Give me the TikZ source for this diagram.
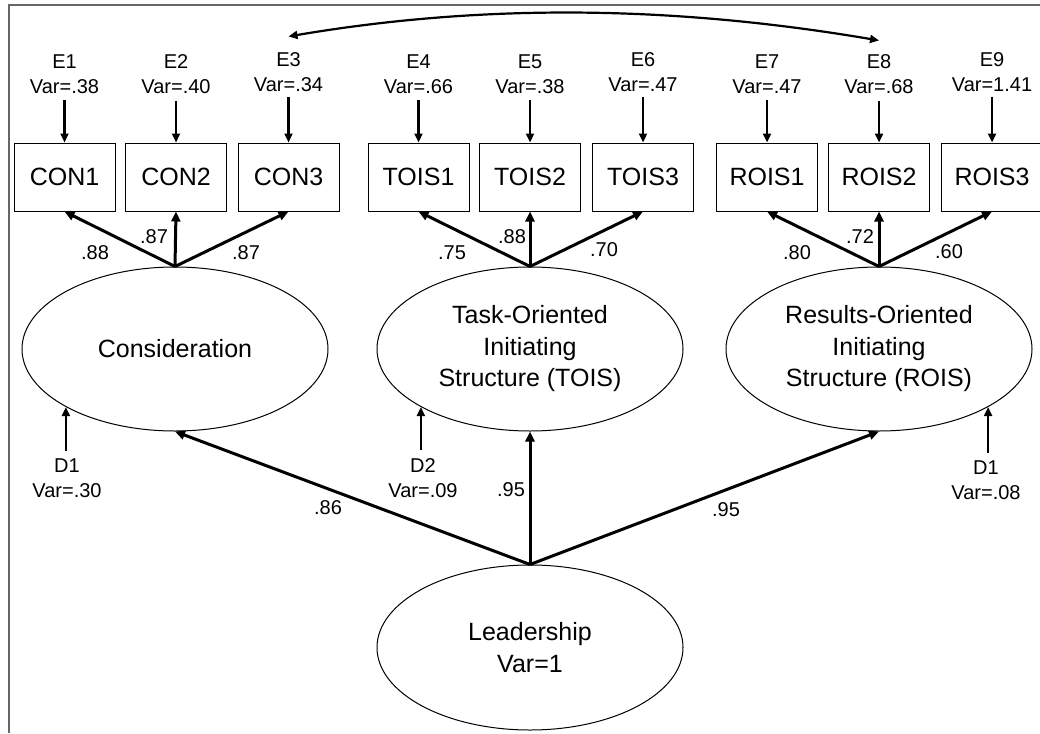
\documentclass[tikz,border=0pt]{standalone}
\usepackage{fontspec}
\setmainfont{Liberation Sans}
\usetikzlibrary{arrows.meta,calc,shapes.geometric}
\newcommand{\labfont}{\fontsize{20}{24.5}\selectfont}
\newcommand{\varfont}{\fontsize{25}{31.5}\selectfont}
\tikzset{
	obsbox/.style={draw, line width=1pt, minimum width=101pt, minimum height=68pt, inner sep=0pt, font=\varfont},
	latent/.style={draw, ellipse, line width=1pt, minimum width=306pt, minimum height=164pt, inner sep=0pt, align=center, font=\varfont},
	errlab/.style={align=center, inner sep=0pt, font=\labfont},
	coef/.style={inner sep=0pt, font=\labfont},
	loadarrow/.style={line width=3pt, -{Triangle[length=10pt, width=9pt]}},
	errarrow/.style={line width=2.2pt, -{Triangle[length=9pt, width=8pt]}},
	covarrow/.style={line width=2.2pt, {Triangle[length=9pt, width=8pt]}-{Triangle[length=9pt, width=8pt]}}
}

\begin{document}
\begin{tikzpicture}[x=1pt, y=-1pt]
			%%%%% START %%%%%
			\useasboundingbox (0, 0) rectangle (1040, 733);
			\draw[line width=2pt, color=black!60] (9, 733) -- (9, 5) -- (1040, 5);
			
			% indicators
			\node[obsbox] (con1) at (64.5, 177) {CON1};
			\node[obsbox] (con2) at (176, 177) {CON2};
			\node[obsbox] (con3) at (288.5, 177) {CON3};
			\node[obsbox] (tois1) at (418.5, 177) {TOIS1};
			\node[obsbox] (tois2) at (530, 177) {TOIS2};
			\node[obsbox] (tois3) at (643, 177) {TOIS3};
			\node[obsbox] (rois1) at (767, 177) {ROIS1};
			\node[obsbox] (rois2) at (879, 177) {ROIS2};
			\node[obsbox] (rois3) at (992, 177) {ROIS3};
			
			% error terms
			\node[errlab] (e1) at (64.5, 74) {E1\\Var=.38};
			\node[errlab] (e2) at (176, 74) {E2\\Var=.40};
			\node[errlab] (e3) at (288.5, 72) {E3\\Var=.34};
			\node[errlab] (e4) at (418.5, 74) {E4\\Var=.66};
			\node[errlab] (e5) at (530, 74) {E5\\Var=.38};
			\node[errlab] (e6) at (643, 72) {E6\\Var=.47};
			\node[errlab] (e7) at (767, 74) {E7\\Var=.47};
			\node[errlab] (e8) at (879, 74) {E8\\Var=.68};
			\node[errlab] (e9) at (992, 72) {E9\\Var=1.41};
			
			\draw[errarrow, shorten <=7pt] (e1.south) -- (con1.north);
			\draw[errarrow, shorten <=7pt] (e2.south) -- (con2.north);
			\draw[errarrow, shorten <=5pt] (e3.south) -- (con3.north);
			\draw[errarrow, shorten <=7pt] (e4.south) -- (tois1.north);
			\draw[errarrow, shorten <=7pt] (e5.south) -- (tois2.north);
			\draw[errarrow, shorten <=5pt] (e6.south) -- (tois3.north);
			\draw[errarrow, shorten <=7pt] (e7.south) -- (rois1.north);
			\draw[errarrow, shorten <=7pt] (e8.south) -- (rois2.north);
			\draw[errarrow, shorten <=5pt] (e9.south) -- (rois3.north);
			
			% correlated errors E3 - E8
			\coordinate (c3) at ($(e3.north)+(0, -16)$);
			\coordinate (c8) at ($(e8.north)+(0, -14)$);
			\draw[covarrow] (c3) .. controls +(200, -34) and +(-200, -34) .. (c8);
			
			% first order factors
			\node[latent] (cons) at (175, 349) {Consideration};
			\node[latent] (tois) at (530, 349) {Task-Oriented\\Initiating\\Structure (TOIS)};
			\node[latent] (rois) at (879, 349) {Results-Oriented\\Initiating\\Structure (ROIS)};
			
			\draw[loadarrow] (cons.north) -- (con1.south);
			\draw[loadarrow] (cons.north) -- (con2.south);
			\draw[loadarrow] (cons.north) -- (con3.south);
			\draw[loadarrow] (tois.north) -- (tois1.south);
			\draw[loadarrow] (tois.north) -- (tois2.south);
			\draw[loadarrow] (tois.north) -- (tois3.south);
			\draw[loadarrow] (rois.north) -- (rois1.south);
			\draw[loadarrow] (rois.north) -- (rois2.south);
			\draw[loadarrow] (rois.north) -- (rois3.south);
			
			\node[coef] (l1) at (95, 253) {.88};
			\node[coef] (l2) at (154, 237) {.87};
			\node[coef] (l3) at (246, 253) {.87};
			\node[coef] (l4) at (452, 253) {.75};
			\node[coef] (l5) at (512, 237) {.88};
			\node[coef] (l6) at (604, 250) {.70};
			\node[coef] (l7) at (797, 253) {.80};
			\node[coef] (l8) at (860, 237) {.72};
			\node[coef] (l9) at (949, 252) {.60};
			
			% disturbances
			\node[errlab] (d1) at (67, 478) {D1\\Var=.30};
			\node[errlab] (d2) at (423, 478) {D2\\Var=.09};
			\node[errlab] (d3) at (986, 480) {D1\\Var=.08};
			
			\draw[errarrow, shorten <=8pt] (cons.208 |- d1.north) -- (cons.208);
			\draw[errarrow, shorten <=8pt] (tois.208 |- d2.north) -- (tois.208);
			\draw[errarrow, shorten <=8pt] (rois.332 |- d3.north) -- (rois.332);
			
			% second order factor
			\node[latent, minimum height=165pt] (lead) at (530, 647.5) {Leadership\\Var=1};
			
			\draw[loadarrow] (lead.north) -- (cons.south);
			\draw[loadarrow] (lead.north) -- (tois.south);
			\draw[loadarrow] (lead.north) -- (rois.south);
			
			\node[coef] (s1) at (328, 508) {.86};
			\node[coef] (s2) at (511, 490) {.95};
			\node[coef] (s3) at (726, 510) {.95};
			
			%%%%% END %%%%%
\end{tikzpicture}
\end{document}
